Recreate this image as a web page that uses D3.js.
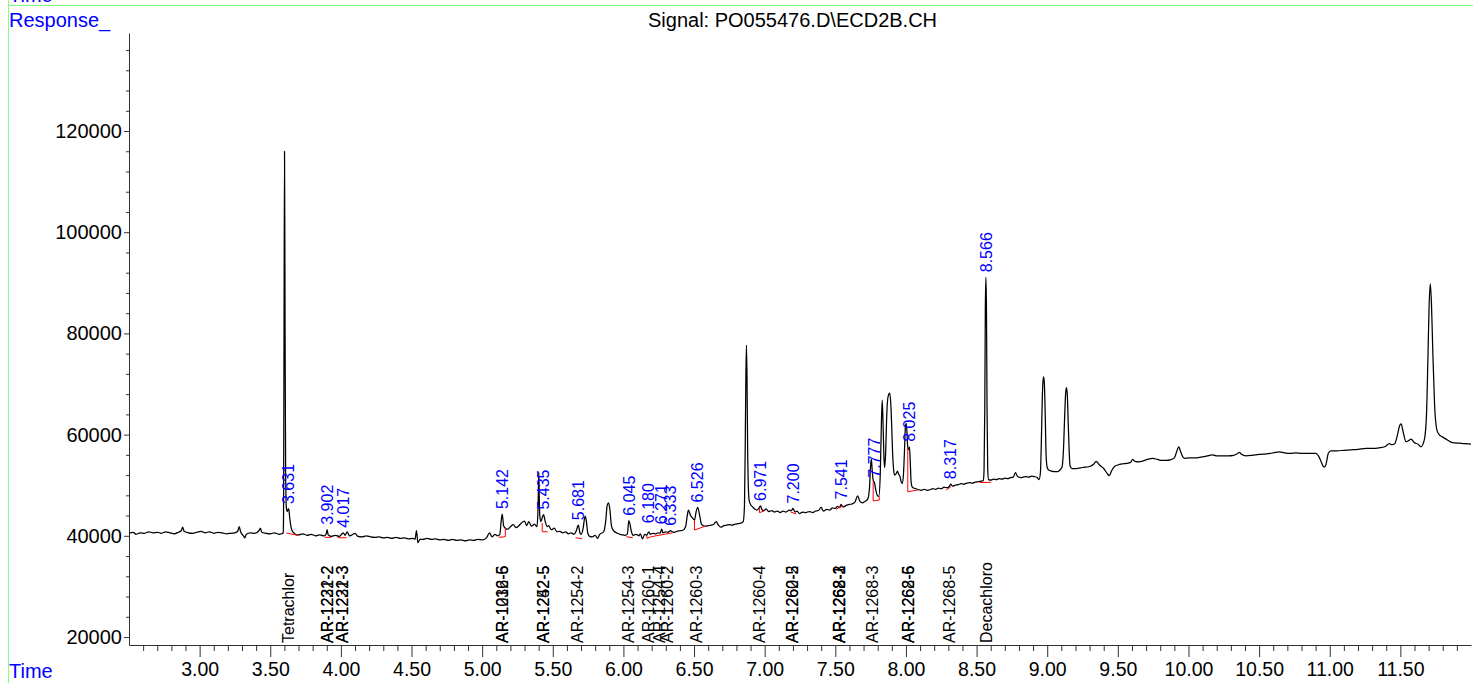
<!DOCTYPE html>
<html><head><meta charset="utf-8">
<script src="https://cdn.jsdelivr.net/npm/d3@7"></script>
<style>
body{margin:0;background:#fff;}
svg{display:block;}
text{font-family:"Liberation Sans",Arial,Helvetica,sans-serif;}
</style>
</head><body>
<svg id="c" width="1473" height="683"></svg>
<script>
// ---- data (time in min, response) ----
const trace = [
[2.50,40500],[2.53,40700],[2.55,40300],[2.58,40600],[2.61,40500],[2.64,40800],[2.67,40600],[2.70,40700],[2.73,40500],[2.76,40800],[2.79,40600],[2.82,40400],[2.85,40700],[2.87,41000],[2.88,41700],[2.89,40900],[2.92,40600],[2.95,40500],[2.98,40700],[3.01,40900],[3.04,40600],[3.07,40800],[3.10,40500],[3.13,40700],[3.16,40600],[3.19,40400],[3.22,40500],[3.25,40600],[3.27,40900],[3.28,41800],[3.29,40800],[3.31,40000],[3.32,39600],[3.33,40300],[3.36,40600],[3.39,40500],[3.42,41000],[3.43,41500],[3.44,40700],[3.47,40500],[3.50,40400],[3.53,40600],[3.56,40300],[3.58,40400],[3.592,40600],
[3.594,44000],[3.597,75000],[3.601,116000],[3.605,80000],[3.609,52000],[3.614,45500],[3.620,44800],[3.627,45300],[3.631,45300],[3.637,43800],[3.645,42000],[3.655,41000],[3.67,40500],[3.685,40200],
[3.70,40200],[3.73,40400],[3.76,40100],[3.79,40300],[3.82,40000],[3.85,40200],[3.88,40000],[3.895,40300],[3.902,41200],[3.91,40200],[3.93,39900],[3.96,40100],[3.99,39900],[4.005,40300],[4.017,40600],[4.03,40100],[4.045,40800],[4.06,40000],[4.08,40200],[4.10,40500],[4.12,39900],[4.15,39800],[4.18,40000],[4.21,39800],[4.24,39700],[4.27,39800],[4.30,39600],[4.33,39700],[4.36,39500],[4.39,39700],[4.42,39500],[4.45,39600],[4.48,39400],[4.51,39500],[4.525,39300],[4.535,41000],[4.545,38600],[4.56,39300],[4.58,39300],[4.61,39500],[4.64,39300],[4.67,39400],[4.70,39200],[4.73,39300],[4.76,39100],[4.79,39300],[4.82,39100],[4.85,39200],[4.88,39000],[4.91,39200],[4.94,39100],[4.97,39300],[5.00,39200],[5.03,39600],[5.052,40600],[5.07,39800],[5.09,40300],[5.11,40000],[5.125,40300],[5.135,43000],[5.142,44300],[5.152,42000],[5.164,41500],[5.18,41300],[5.20,41800],[5.22,42200],[5.24,41600],[5.26,42000],[5.28,42600],[5.30,42900],[5.315,42000],[5.33,42800],[5.35,41900],[5.37,42300],[5.388,41800],[5.395,45000],[5.398,49000],[5.401,52600],[5.404,48000],[5.408,44000],[5.415,42800],[5.425,43600],[5.435,44200],[5.445,43000],[5.46,41800],[5.47,42000],[5.49,41200],[5.51,41500],[5.53,40800],[5.55,40900],[5.57,40600],[5.59,40800],[5.61,40400],[5.63,40600],[5.65,40300],[5.665,40900],[5.681,42100],[5.692,40600],[5.70,40300],[5.715,41500],[5.725,43500],[5.730,43900],[5.738,42800],[5.748,40500],[5.76,39900],[5.78,39800],[5.80,40100],[5.817,39500],[5.83,40200],[5.86,40800],[5.875,43000],[5.885,46000],[5.895,46500],[5.905,45000],[5.915,42000],[5.93,41000],[5.958,40500],[5.975,40300],[5.99,40200],[6.01,40100],[6.028,40400],[6.038,43000],[6.045,42500],[6.055,41000],[6.07,40100],[6.09,40300],[6.11,40000],[6.12,40400],[6.135,39400],[6.15,40300],[6.165,40100],[6.18,40800],[6.19,40300],[6.21,40500],[6.23,40400],[6.245,40600],[6.26,40500],[6.271,41300],[6.28,40600],[6.30,40800],[6.315,40700],[6.333,41000],[6.345,40800],[6.36,40700],[6.38,40900],[6.40,41000],[6.42,41100],[6.44,41800],[6.452,44000],[6.46,45100],[6.475,44000],[6.49,43500],[6.503,43100],[6.515,44800],[6.526,45600],[6.54,44000],[6.552,42300],[6.56,42100],[6.58,41900],[6.60,42000],[6.62,42100],[6.64,42300],[6.657,42800],[6.67,42200],[6.69,41700],[6.71,42000],[6.73,42100],[6.75,42200],[6.77,42100],[6.79,42300],[6.81,42400],[6.83,42500],[6.848,42800],[6.857,46000],[6.863,60000],[6.867,72000],[6.871,77700],[6.875,71000],[6.879,58000],[6.884,50000],[6.890,47000],[6.90,46200],[6.915,45700],[6.93,45300],[6.945,45100],[6.958,45400],[6.966,45800],[6.971,45900],[6.98,45200],[6.995,45000],[7.01,45300],[7.03,44800],[7.05,45000],[7.07,44700],[7.09,44900],[7.11,44600],[7.13,44900],[7.15,44700],[7.176,45100],[7.19,45000],[7.20,45400],[7.215,44700],[7.23,44900],[7.246,44400],[7.27,44700],[7.29,44600],[7.317,44800],[7.34,44600],[7.36,44900],[7.38,45000],[7.40,45600],[7.415,44900],[7.44,45200],[7.46,45100],[7.48,45500],[7.50,45400],[7.515,45800],[7.53,45600],[7.541,46200],[7.555,45700],[7.577,46000],[7.60,46200],[7.62,46300],[7.64,46700],[7.657,47900],[7.675,46800],[7.692,46500],[7.71,46800],[7.73,47300],[7.742,49500],[7.749,53500],[7.755,55200],[7.761,53000],[7.768,51000],[7.777,50500],[7.787,49000],[7.797,48000],[7.808,47800],[7.818,52000],[7.826,62000],[7.832,66800],[7.838,62000],[7.845,55000],[7.850,53500],[7.857,57000],[7.863,63000],[7.869,66500],[7.876,67800],[7.885,68200],[7.893,66000],[7.90,61000],[7.906,56000],[7.913,53000],[7.92,52000],[7.931,52300],[7.94,52800],[7.948,52200],[7.957,51800],[7.965,50800],[7.973,50300],[7.982,52000],[7.99,57000],[7.996,61500],[8.002,62200],[8.008,60000],[8.014,57000],[8.02,57200],[8.025,57600],[8.03,55000],[8.037,50500],[8.045,49600],[8.06,49400],[8.072,49300],[8.09,49100],[8.11,49000],[8.13,49200],[8.15,49000],[8.17,49100],[8.19,49300],[8.21,49200],[8.23,49400],[8.25,49300],[8.27,49600],[8.29,49500],[8.305,49700],[8.317,50200],[8.33,49800],[8.35,50000],[8.37,50100],[8.39,50300],[8.41,50200],[8.43,50400],[8.45,50500],[8.47,50400],[8.49,50600],[8.51,50700],[8.53,50800],[8.548,50900],[8.553,53000],[8.558,65000],[8.562,85000],[8.566,91100],[8.570,85000],[8.574,65000],[8.579,53000],[8.585,51100],[8.60,51000],[8.62,51200],[8.64,51100],[8.66,51300],[8.68,51200],[8.70,51400],[8.72,51300],[8.74,51500],[8.76,51600],[8.775,52500],[8.79,51700],[8.81,51500],[8.83,51600],[8.85,51700],[8.87,51600],[8.89,51800],[8.91,51700],[8.93,51500],[8.942,51100],[8.952,52500],[8.958,58000],[8.965,67000],[8.970,70500],[8.975,71400],[8.980,70000],[8.986,64000],[8.992,56000],[9.000,53500],[9.01,53000],[9.03,52800],[9.05,52700],[9.074,52700],[9.09,53000],[9.105,53600],[9.115,57000],[9.124,64000],[9.130,68000],[9.136,69300],[9.142,68000],[9.148,63000],[9.155,57000],[9.162,53800],[9.175,53300],[9.205,53300],[9.25,53500],[9.30,53700],[9.33,54200],[9.346,54700],[9.37,54000],[9.40,53300],[9.425,52300],[9.44,51900],[9.455,52800],[9.476,53700],[9.50,54000],[9.53,54200],[9.56,54300],[9.59,54500],[9.605,55100],[9.62,54700],[9.65,54600],[9.68,54800],[9.71,55100],[9.747,55300],[9.78,55100],[9.81,54900],[9.841,54900],[9.87,55000],[9.90,55400],[9.915,56500],[9.931,57600],[9.945,56600],[9.96,55600],[9.975,55300],[10.00,55400],[10.04,55400],[10.08,55500],[10.12,55700],[10.15,55900],[10.171,56000],[10.20,55800],[10.24,55800],[10.28,55800],[10.32,55900],[10.345,56200],[10.36,56500],[10.375,56100],[10.408,55800],[10.45,55900],[10.50,56100],[10.55,56200],[10.60,56400],[10.643,56600],[10.68,56400],[10.72,56300],[10.76,56400],[10.80,56300],[10.85,56300],[10.903,56300],[10.92,55800],[10.94,54600],[10.955,53700],[10.965,53600],[10.975,54300],[10.99,56300],[11.009,56800],[11.05,56800],[11.10,56900],[11.15,57000],[11.20,57100],[11.257,57300],[11.30,57300],[11.35,57400],[11.39,57600],[11.422,58200],[11.44,58000],[11.46,58200],[11.48,60000],[11.495,61800],[11.505,62100],[11.52,60500],[11.54,58600],[11.558,58800],[11.575,59100],[11.60,58400],[11.625,58100],[11.646,57600],[11.67,59000],[11.685,64000],[11.695,75000],[11.703,85000],[11.712,89800],[11.72,86000],[11.73,76000],[11.742,66000],[11.758,61000],[11.775,60000],[11.80,59500],[11.83,59000],[11.87,58400],[11.92,58300],[11.96,58200],[12.00,58100]
];

const xTickValues = [3.0,3.5,4.0,4.5,5.0,5.5,6.0,6.5,7.0,7.5,8.0,8.5,9.0,9.5,10.0,10.5,11.0,11.5];
const yTickValues = [20000,40000,60000,80000,100000,120000];

const peakRT   = ["3.631","3.902","4.017","5.142","5.435","5.681","6.045","6.180","6.271","6.333","6.526","6.971","7.200","7.541","7.777","8.025","8.317","8.566"];
const peakResp = [45300,41200,40600,44300,44200,42100,43000,41500,41300,41000,45600,45900,45400,46200,50500,57600,50200,91100];

// integration baselines / drop lines: [t1, r1, t2, r2]
const baselineSegs = [
[3.614,40560,3.696,40090],
[3.885,39700,3.932,39700],
[3.977,39620,4.040,39620],
[5.118,39700,5.164,39820],[5.164,41540,5.164,39820],
[5.425,42530,5.425,40810],[5.425,40810,5.464,40810],
[5.661,39620,5.708,39420],
[6.020,39820,6.067,39620],
[6.166,39960,6.166,39500],[6.166,39500,6.197,39820],
[6.197,39820,6.350,40610],
[6.503,43120,6.503,41140],[6.503,41140,6.581,41930],
[6.963,45430,6.963,44560],[6.963,44560,6.999,44960],
[7.180,44760,7.223,44300],
[7.506,45250,7.553,45890],
[7.768,50690,7.768,46870],[7.768,46870,7.811,47070],[7.811,47070,7.811,47800],
[8.013,57350,8.013,48710],[8.013,48710,8.084,49050],
[8.285,49050,8.318,49700],
[8.520,50530,8.603,50570]
];

const compoundRT   = [3.63,3.904,3.904,4.014,4.014,5.14,5.14,5.43,5.43,5.677,6.038,6.18,6.256,6.314,6.515,6.963,7.194,7.194,7.529,7.529,7.529,7.765,8.02,8.02,8.308,8.567];
const compoundName = ["Tetrachlor","AR-1221-2","AR-1232-2","AR-1221-3","AR-1232-3","AR-1016-5","AR-1232-6","AR-1242-5","AR-1252-5","AR-1254-2","AR-1254-3","AR-1260-1","AR-1254-4","AR-1260-2","AR-1260-3","AR-1260-4","AR-1260-5","AR-1262-2","AR-1262-3","AR-1268-1","AR-1268-2","AR-1268-3","AR-1262-5","AR-1268-6","AR-1268-5","Decachloro"];

// ---- drawing ----
const svg = d3.select('#c');
const x = d3.scaleLinear().domain([2.5, 12.0]).range([129, 1471]);
const y = d3.scaleLinear().domain([18420, 139370]).range([645, 33]);

const BLUE = '#0000ff';

// green frame lines
svg.append('line').attr('x1',8).attr('x2',1473).attr('y1',5.5).attr('y2',5.5).attr('stroke','#80ff80').attr('stroke-width',1);
svg.append('line').attr('x1',8.5).attr('x2',8.5).attr('y1',0).attr('y2',683).attr('stroke','#80ff80').attr('stroke-width',1);

// header texts
svg.append('text').attr('x',9).attr('y',2).attr('fill',BLUE).attr('font-size',20).text('Time');
svg.append('text').attr('x',9).attr('y',27).attr('fill',BLUE).attr('font-size',20).text('Response_');
svg.append('text').attr('x',9).attr('y',678).attr('fill',BLUE).attr('font-size',20).text('Time');
svg.append('text').attr('x',648).attr('y',27).attr('fill','#000').attr('font-size',20).text('Signal: PO055476.D\\ECD2B.CH');

// axes
const xMinor = d3.range(26, 120).filter(i => i % 5 !== 0).map(i => i / 10);
const yMinor = d3.range(20000, 139000, 4000).filter(v => v % 20000 !== 0);

const gx = svg.append('g').attr('transform','translate(0,645)')
  .call(d3.axisBottom(x).tickValues(xTickValues).tickFormat(d3.format('.2f')).tickSize(12).tickSizeOuter(0).tickPadding(5));
svg.append('g').attr('transform','translate(0,645)')
  .call(d3.axisBottom(x).tickValues(xMinor).tickFormat('').tickSize(6).tickSizeOuter(0))
  .select('.domain').remove();
gx.selectAll('text').attr('font-size',19.5).attr('font-family','"Liberation Sans",Arial,sans-serif').attr('fill','#000');

const gy = svg.append('g').attr('transform','translate(129,0)')
  .call(d3.axisLeft(y).tickValues(yTickValues).tickFormat(d3.format('d')).tickSize(5).tickSizeOuter(0).tickPadding(2));
svg.append('g').attr('transform','translate(129,0)')
  .call(d3.axisLeft(y).tickValues(yMinor).tickFormat('').tickSize(3).tickSizeOuter(0))
  .select('.domain').remove();
gy.selectAll('text').attr('font-size',20).attr('font-family','"Liberation Sans",Arial,sans-serif').attr('fill','#000');
svg.selectAll('.domain, .tick line').attr('stroke','#333');

// compound labels
svg.append('g').selectAll('text').data(compoundRT).join('text')
  .attr('transform', d => `translate(${x(d)},643) rotate(-90)`)
  .attr('dy','0.35em').attr('font-size',16).attr('fill','#000')
  .text((d,i) => compoundName[i]);

// signal trace
const line = d3.line().x(d => x(d[0])).y(d => y(d[1])).curve(d3.curveMonotoneX);
svg.append('path').datum(trace).attr('d', line).attr('fill','none').attr('stroke','#000').attr('stroke-width',1.25).attr('stroke-linejoin','round');

// integration baselines
svg.append('g').selectAll('line').data(baselineSegs).join('line')
  .attr('x1', d => x(d[0])).attr('y1', d => y(d[1]))
  .attr('x2', d => x(d[2])).attr('y2', d => y(d[3]))
  .attr('stroke','#ff0000').attr('stroke-width',1);

// peak retention time labels
svg.append('g').selectAll('text').data(peakRT).join('text')
  .attr('transform', (d,i) => `translate(${x(+d)},${y(peakResp[i]) - 5}) rotate(-90)`)
  .attr('dy','0.35em').attr('font-size',16).attr('fill',BLUE)
  .text(d => d);
</script>
</body></html>
